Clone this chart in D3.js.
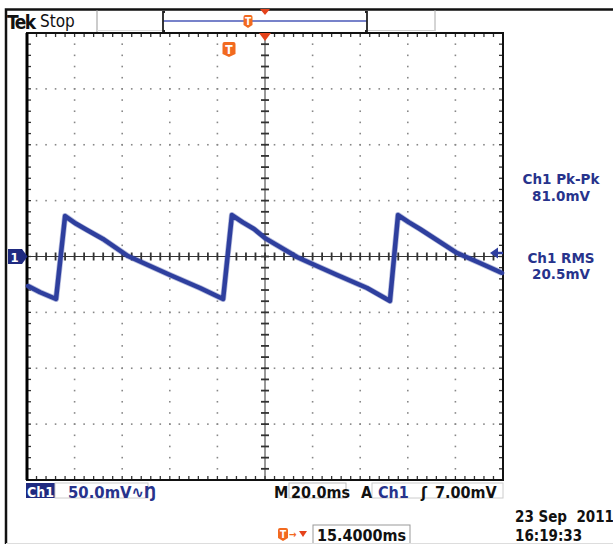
<!DOCTYPE html>
<html><head><meta charset="utf-8">
<script src="https://cdn.jsdelivr.net/npm/d3@7/dist/d3.min.js"></script>
<style>body{margin:0;background:#fff}svg{display:block}text{font-family:"DejaVu Sans Condensed","Liberation Sans Narrow","DejaVu Sans",sans-serif}</style>
</head><body><svg id="c" width="613" height="544"></svg>
<script>
// Waveform samples (time in ms relative to centre, voltage in mV)
const timeMs    = [-99.6, -94.5, -87.8, -84.0, -79.5, -74.8, -68.1, -57.6, -48.3, -39.9, -27.3, -17.6, -13.9, -9.3, -4.6, 0.0, 13.4, 21.8, 30.3, 42.9, 52.5, 55.9, 60.5, 65.1, 80.7, 90.3, 99.6];
const voltageMv = [-26.4, -32.0, -38.0,  36.2,  29.5,  23.7,  15.7,   0.4,  -8.5, -16.5, -28.2, -38.0,  37.1, 30.5, 24.6, 16.5, -0.4, -8.5, -16.5, -28.2, -39.8, 37.1, 30.5, 24.6,  3.1, -5.8, -14.8];
// Graticule: 10 horizontal divisions of 20 ms, 8 vertical divisions of 50 mV
const timeDomain = [-100, 100];
const voltDomain = [-200, 200];
const timeDivs = [-80, -60, -40, -20, 20, 40, 60, 80];
const voltDivs = [-150, -100, -50, 50, 100, 150];
const timeMinorStep = 4;
const voltMinorStep = 10;
// Readouts
const headerLabels = ["Tek", "Stop"];
const measureLabels = ["Ch1 Pk-Pk", "81.0mV", "Ch1 RMS", "20.5mV"];
const channelLabels = ["Ch1", "50.0mV\u223F\u014A"];
const timebaseLabels = ["M", "20.0ms", "A", "Ch1", "\u0283", "7.00mV"];
const triggerPosLabel = "15.4000ms";
const dateLabels = ["23 Sep  2011", "16:19:33"];

const BLUE = "#2f3f9f", DBLUE = "#1f2a80", TBLUE = "#27338c", ORANGE = "#f26a1f", RED = "#e5431b";
const svg = d3.select("#c");
const x = d3.scaleLinear().domain(timeDomain).range([27, 503]);
const y = d3.scaleLinear().domain(voltDomain).range([480, 33]);
const x0 = x(0), y0 = y(0);

// outer frame
svg.append("path").attr("d", "M6,544 V9.5 H613").attr("fill", "none").attr("stroke", "#111").attr("stroke-width", 2.5);
// header cells
svg.append("line").attr("x1", 97).attr("x2", 97).attr("y1", 10).attr("y2", 33).attr("stroke", "#999").attr("stroke-width", 1);
svg.append("line").attr("x1", 435).attr("x2", 435).attr("y1", 10).attr("y2", 31).attr("stroke", "#aaa").attr("stroke-width", 1);
svg.append("line").attr("x1", 367).attr("x2", 435).attr("y1", 30.5).attr("y2", 30.5).attr("stroke", "#ccc").attr("stroke-width", 1);
svg.append("line").attr("x1", 97).attr("x2", 163).attr("y1", 30.5).attr("y2", 30.5).attr("stroke", "#ddd").attr("stroke-width", 1);
// record view box
svg.append("line").attr("x1", 163).attr("x2", 367).attr("y1", 21).attr("y2", 21).attr("stroke", "#4a58b8").attr("stroke-width", 1.5);
svg.append("path").attr("d", "M165,12 H163 V31 H165 M365,12 H367 V31 H365").attr("fill", "none").attr("stroke", "#222").attr("stroke-width", 1.8);
svg.append("text").attr("x", 7).attr("y", 28.5).attr("font-size", 19).attr("font-weight", "bold").attr("letter-spacing", -1.5).attr("fill", "#111").text(headerLabels[0]);
svg.append("text").attr("x", 40).attr("y", 27).attr("font-size", 17).attr("fill", "#111").text(headerLabels[1]);

function badge(cx, top, w, h, fs) {
  const g = svg.append("g");
  g.append("path").attr("d", `M${cx - w / 2},${top + 2} Q${cx - w / 2},${top} ${cx - w / 2 + 2},${top} H${cx + w / 2 - 2} Q${cx + w / 2},${top} ${cx + w / 2},${top + 2} V${top + h - 3} L${cx},${top + h} L${cx - w / 2},${top + h - 3} Z`).attr("fill", ORANGE);
  g.append("text").attr("x", cx).attr("y", top + h * 0.78).attr("text-anchor", "middle").attr("font-size", fs).attr("font-weight", "bold").attr("fill", "#fff").text("T");
}
badge(248, 15, 9, 13, 10);
svg.append("path").attr("d", "M260,9 L270,9 L265,15 Z").attr("fill", RED);

// graticule dotted grid
const dots = [];
timeDivs.forEach(t => d3.range(voltDomain[0] + voltMinorStep, voltDomain[1], voltMinorStep).forEach(v => dots.push([t, v])));
voltDivs.forEach(v => d3.range(timeDomain[0] + timeMinorStep, timeDomain[1], timeMinorStep).forEach(t => dots.push([t, v])));
svg.append("g").selectAll("rect").data(dots).join("rect")
  .attr("x", d => x(d[0]) - 0.8).attr("y", d => y(d[1]) - 0.8).attr("width", 1.6).attr("height", 1.6).attr("fill", "#888");

// border ticks
const tTicks = d3.range(timeDomain[0] + timeMinorStep, timeDomain[1], timeMinorStep);
const vTicks = d3.range(voltDomain[0] + voltMinorStep, voltDomain[1], voltMinorStep);
const tk = svg.append("g").attr("stroke", "#333").attr("stroke-width", 1.3);
tTicks.forEach(t => {
  tk.append("line").attr("x1", x(t)).attr("x2", x(t)).attr("y1", y(200)).attr("y2", y(200) + 4);
  tk.append("line").attr("x1", x(t)).attr("x2", x(t)).attr("y1", y(-200)).attr("y2", y(-200) - 4);
  tk.append("line").attr("x1", x(t)).attr("x2", x(t)).attr("y1", y0 - 4).attr("y2", y0 + 4).attr("stroke-width", 1.8);
});
vTicks.forEach(v => {
  tk.append("line").attr("y1", y(v)).attr("y2", y(v)).attr("x1", x(-100)).attr("x2", x(-100) + 4);
  tk.append("line").attr("y1", y(v)).attr("y2", y(v)).attr("x1", x(100)).attr("x2", x(100) - 4);
  tk.append("line").attr("y1", y(v)).attr("y2", y(v)).attr("x1", x0 - 4).attr("x2", x0 + 4).attr("stroke-width", 1.8);
});
// centre axes
svg.append("line").attr("x1", x(-100)).attr("x2", x(100)).attr("y1", y0).attr("y2", y0).attr("stroke", "#333").attr("stroke-width", 1);
svg.append("line").attr("x1", x0).attr("x2", x0).attr("y1", y(200)).attr("y2", y(-200)).attr("stroke", "#333").attr("stroke-width", 1);
// graticule border
svg.append("rect").attr("x", x(-100)).attr("y", y(200)).attr("width", x(100) - x(-100)).attr("height", y(-200) - y(200)).attr("fill", "none").attr("stroke", "#111").attr("stroke-width", 2);
svg.append("line").attr("x1", x(-100)).attr("x2", x(-100)).attr("y1", y(200)).attr("y2", y(-200)).attr("stroke", "#000").attr("stroke-width", 3);

// trigger markers in graticule
svg.append("path").attr("d", `M${x0 - 6},${y(200)} L${x0 + 6},${y(200)} L${x0},${y(200) + 8} Z`).attr("fill", RED);
badge(229, 42, 13, 15, 12);

// waveform
const line = d3.line().x((d, i) => x(timeMs[i])).y((d, i) => y(voltageMv[i]));
svg.append("path").datum(timeMs).attr("d", line).attr("fill", "none").attr("stroke", BLUE).attr("stroke-width", 4.5).attr("stroke-linejoin", "round").attr("stroke-linecap", "round");
svg.append("path").datum(timeMs).attr("d", line).attr("fill", "none").attr("stroke", BLUE).attr("stroke-opacity", 0.35).attr("stroke-width", 6).attr("stroke-linejoin", "round");

// channel ground marker
svg.append("path").attr("d", `M8,${y0 - 7.5} H22 L27.5,${y0} L22,${y0 + 7.5} H8 Z`).attr("fill", DBLUE);
svg.append("text").attr("x", 14.5).attr("y", y0 + 5).attr("text-anchor", "middle").attr("font-size", 13).attr("font-weight", "bold").attr("fill", "#fff").text("1");
// trigger level marker
svg.append("path").attr("d", `M490,${y0 - 3.5} L498,${y0 - 9} L498,${y0 + 2} Z`).attr("fill", BLUE);
svg.append("line").attr("x1", 496).attr("x2", 503).attr("y1", y0 - 3.5).attr("y2", y0 - 3.5).attr("stroke", BLUE).attr("stroke-width", 2.5);

// measurements
const mY = [184, 200.5, 263, 279];
svg.append("g").selectAll("text").data(measureLabels).join("text")
  .attr("x", 561).attr("y", (d, i) => mY[i]).attr("text-anchor", "middle").attr("font-size", 13.5)
  .style("font-family", "'DejaVu Sans', sans-serif").attr("font-weight", "bold").attr("fill", TBLUE).text(d => d);

// bottom readouts
svg.append("rect").attr("x", 26).attr("y", 483).attr("width", 29).attr("height", 15).attr("fill", DBLUE);
svg.append("text").attr("x", 40.5).attr("y", 496.5).attr("text-anchor", "middle").attr("font-size", 14).attr("font-weight", "bold").attr("fill", "#fff").text(channelLabels[0]);
svg.append("rect").attr("x", 55).attr("y", 483).attr("width", 93).attr("height", 15).attr("fill", "none").attr("stroke", "#ccc");
svg.append("text").attr("x", 68).attr("y", 497.5).attr("font-size", 16.5).attr("font-weight", "bold").attr("fill", TBLUE).text(channelLabels[1]);

svg.append("rect").attr("x", 289).attr("y", 483).attr("width", 57).attr("height", 15).attr("fill", "none").attr("stroke", "#bbb");
svg.append("rect").attr("x", 372).attr("y", 483).attr("width", 131).attr("height", 15).attr("fill", "none").attr("stroke", "#ccc");
const tbX = [274, 291, 361, 378, 421, 435];
const tbC = ["#111", "#111", "#111", TBLUE, "#111", "#111"];
svg.append("g").selectAll("text").data(timebaseLabels).join("text")
  .attr("x", (d, i) => tbX[i]).attr("y", 497.5).attr("font-size", 16).attr("font-weight", "bold").attr("fill", (d, i) => tbC[i]).text(d => d);

badge(283, 528, 10, 13, 10);
svg.append("text").attr("x", 289).attr("y", 538).attr("font-size", 10).attr("font-weight", "bold").attr("fill", ORANGE).text("\u2192");
svg.append("path").attr("d", "M299,531 L307,531 L303,537 Z").attr("fill", RED);
svg.append("rect").attr("x", 313).attr("y", 525).attr("width", 97).attr("height", 19).attr("fill", "none").attr("stroke", "#999");
svg.append("text").attr("x", 317).attr("y", 541).attr("font-size", 16).attr("font-weight", "bold").attr("fill", "#111").text(triggerPosLabel);

svg.append("g").selectAll("text").data(dateLabels).join("text")
  .attr("x", 515).attr("y", (d, i) => [522, 541][i]).attr("font-size", 15).attr("font-weight", "bold").attr("fill", "#111").style("white-space", "pre").text(d => d);
svg.append("line").attr("x1", 6).attr("x2", 613).attr("y1", 543.5).attr("y2", 543.5).attr("stroke", "#ddd");
</script></body></html>
